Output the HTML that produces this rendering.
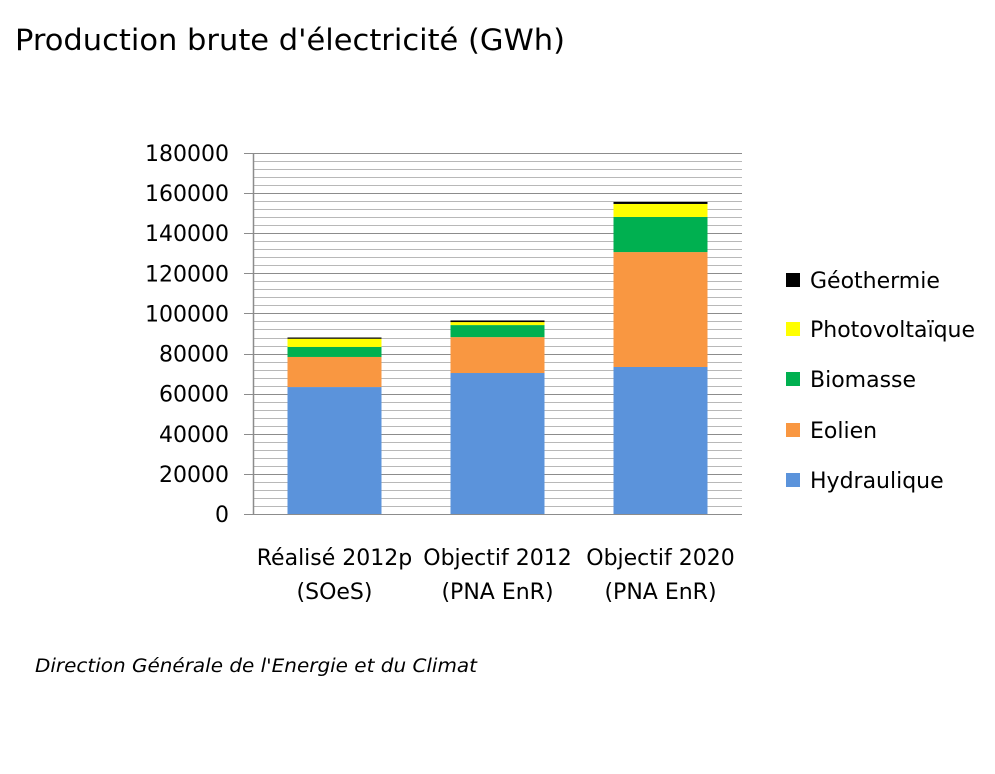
<!DOCTYPE html>
<html><head><meta charset="utf-8"><style>
html,body{margin:0;padding:0;background:#fff}
svg text{font-family:"DejaVu Sans","Liberation Sans",sans-serif;fill:#000}
</style></head><body>
<svg id="chart" width="995" height="769" xmlns="http://www.w3.org/2000/svg">
<text x="15" y="50" font-size="29" textLength="550" lengthAdjust="spacingAndGlyphs">Production brute d'électricité (GWh)</text>
<g id="grid"></g>
<g id="bars"></g>
<g id="axes"></g>
<g id="legend"></g>
<text x="35" y="672" font-size="18.5" font-style="italic" textLength="442" lengthAdjust="spacingAndGlyphs">Direction Générale de l'Energie et du Climat</text>
</svg>
<script>
const categories = [["Réalisé 2012p","(SOeS)"],["Objectif 2012","(PNA EnR)"],["Objectif 2020","(PNA EnR)"]];
const seriesNames = ["Hydraulique","Eolien","Biomasse","Photovoltaïque","Géothermie"];
const hydraulique = [63300, 70300, 73300];
const eolien = [15000, 17900, 57300];
const biomasse = [5000, 6000, 17500];
const photovoltaique = [4100, 1500, 6500];
const geothermie = [600, 800, 1000];
const yTicks = [0,20000,40000,60000,80000,100000,120000,140000,160000,180000];
const colors = ["#5b93db","#f99741","#00b050","#ffff00","#000000"];
const series = [hydraulique, eolien, biomasse, photovoltaique, geothermie];

const NS="http://www.w3.org/2000/svg";
const x0=253, x1=742, yTop=153, yBot=514, yMax=180000;
const y = v => yBot - (v/yMax)*(yBot-yTop);
const band = (x1-x0)/categories.length;
const xc = i => x0 + band*(i+0.5);
const barW = 94;
function mk(tag, attrs, parent){const e=document.createElementNS(NS,tag);for(const k in attrs)e.setAttribute(k,attrs[k]);parent.appendChild(e);return e;}
const grid=document.getElementById('grid'), bars=document.getElementById('bars'), axes=document.getElementById('axes'), legend=document.getElementById('legend');
for(let v=0; v<=yMax; v+=4000){
  const major = v%20000===0;
  const l=mk('line',{x1:x0,x2:x1,y1:Math.round(y(v))+0.5,y2:Math.round(y(v))+0.5,stroke:major?'#8c8c8c':'#b8b8b8','stroke-width':1},grid);
  
  
}
categories.forEach((c,i)=>{
  let acc=0;
  series.forEach((s,k)=>{
    const r=mk('rect',{x:xc(i)-barW/2,y:y(acc+s[i]),width:barW,height:y(acc)-y(acc+s[i]),fill:colors[k]},bars);
    
    
    acc+=s[i];
  });
  c.forEach((line,j)=>{
    const t=mk('text',{x:xc(i),y:565+j*34,'font-size':22,'text-anchor':'middle'},axes);
    t.textContent=line;
    
    
  });
});
const ax=mk('line',{x1:x0+0.5,x2:x0+0.5,y1:yTop,y2:yBot+1,stroke:'#8c8c8c','stroke-width':1.5},axes);


yTicks.forEach(v=>{
  const tk=mk('line',{x1:x0-9,x2:x0,y1:Math.round(y(v))+0.5,y2:Math.round(y(v))+0.5,stroke:'#8c8c8c'},axes);
  
  
  const t=mk('text',{x:229,y:y(v)+8,'font-size':22,'text-anchor':'end'},axes);
  t.textContent=String(v);
  
  
});
const legY=[480,430,379,329,280];
seriesNames.forEach((n,k)=>{
  const g=mk('g',{},legend);
  
  
  mk('rect',{x:786,y:legY[k]-7,width:14,height:14,fill:colors[k]},g);
  const t=mk('text',{x:810,y:legY[k]+8,'font-size':22},g);
  t.textContent=n;
});
</script>
</body></html>
